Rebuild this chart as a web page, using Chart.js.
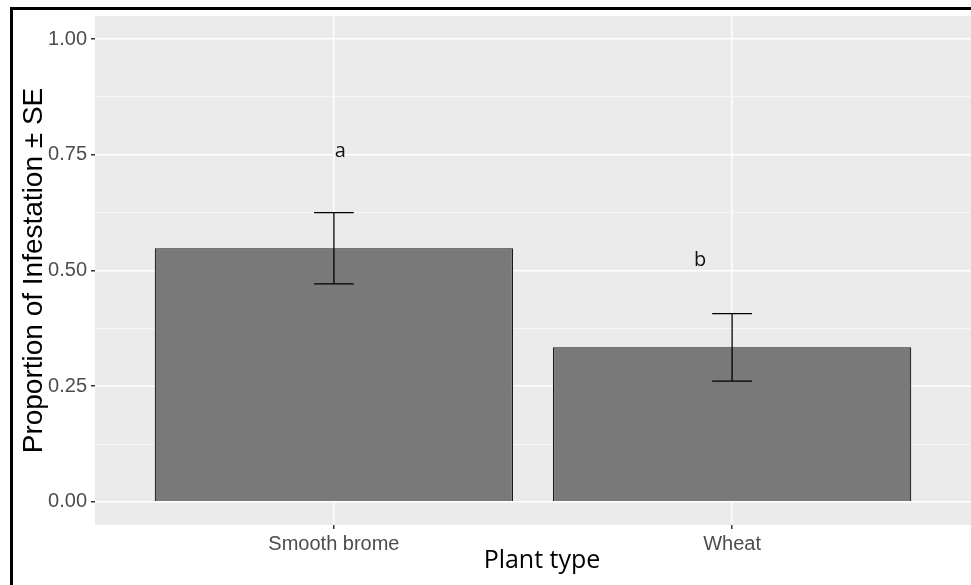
<!DOCTYPE html>
<html lang="en">
<head>
  <meta charset="UTF-8" />
  <title>Proportion of Infestation</title>
  <script src="https://cdn.jsdelivr.net/npm/chart.js"></script>
  <style>
    body {
      margin: 0;
      background: #ffffff;
    }
    #wrap {
      width: 971px;
      height: 585px;
    }
  </style>
</head>
<body>
  <div id="wrap"><canvas id="grafica" width="971" height="585"></canvas></div>

  <script>
    // data
    const categories = ['Smooth brome', 'Wheat'];
    const means = [0.548, 0.334];
    const se = [0.077, 0.073];
    const letters = ['a', 'b'];
    const letterX = [1.016, 1.92];
    const letterY = [0.746, 0.51];
    const yTicks = [0, 0.25, 0.5, 0.75, 1];
    const yMinor = [0.125, 0.375, 0.625, 0.875];

    const panelBg = {
      id: 'panelBg',
      beforeDraw(chart) {
        const { ctx, chartArea: a } = chart;
        ctx.save();
        ctx.fillStyle = '#EBEBEB';
        ctx.fillRect(a.left, a.top, a.right - a.left, a.bottom - a.top);
        ctx.restore();
      }
    };

    const extras = {
      id: 'extras',
      afterDatasetsDraw(chart) {
        const { ctx, chartArea: a } = chart;
        const x = chart.scales.x, y = chart.scales.y;
        ctx.save();

        // error bars
        ctx.strokeStyle = '#000';
        ctx.lineWidth = 1.3;
        means.forEach((m, i) => {
          const cx = x.getPixelForValue(i + 1);
          const half = x.getPixelForValue(i + 1.05) - cx;
          const top = y.getPixelForValue(m + se[i]);
          const bot = y.getPixelForValue(m - se[i]);
          ctx.beginPath();
          ctx.moveTo(cx, top); ctx.lineTo(cx, bot);
          ctx.moveTo(cx - half, top); ctx.lineTo(cx + half, top);
          ctx.moveTo(cx - half, bot); ctx.lineTo(cx + half, bot);
          ctx.stroke();
        });

        // significance letters
        ctx.fillStyle = '#111';
        ctx.font = '20px "Open Sans"';
        ctx.textAlign = 'center';
        ctx.textBaseline = 'alphabetic';
        letters.forEach((l, i) => {
          ctx.fillText(l, x.getPixelForValue(letterX[i]), y.getPixelForValue(letterY[i]));
        });

        // axis titles
        ctx.fillStyle = '#000';
        ctx.font = '28px "Liberation Sans"';
        ctx.textBaseline = 'middle';
        ctx.translate(34, (a.top + a.bottom) / 2);
        ctx.rotate(-Math.PI / 2);
        ctx.fillText('Proportion of Infestation \u00B1 SE', 0, 0);
        ctx.setTransform(1, 0, 0, 1, 0, 0);
        ctx.font = '25px "Open Sans"';
        ctx.textBaseline = 'alphabetic';
        ctx.fillText('Plant type', (a.left + a.right) / 2 + 9, 568);

        // frame of the picture
        ctx.fillStyle = '#000';
        ctx.fillRect(10, 7, 3, chart.height - 7);
        ctx.fillRect(10, 7, chart.width - 10, 3);
        ctx.restore();
      }
    };

    const isMajor = (v) => yTicks.some(t => Math.abs(t - v) < 1e-6);

    const config = {
      type: 'bar',
      data: {
        datasets: [{
          data: means.map((m, i) => ({ x: i + 1, y: m })),
          backgroundColor: '#797979',
          borderColor: '#1a1a1a',
          borderWidth: 1.2,
          barPercentage: 0.9,
          categoryPercentage: 1
        }]
      },
      options: {
        responsive: false,
        animation: false,
        layout: { padding: { top: 16, right: 0, left: 0, bottom: 0 } },
        plugins: {
          legend: { display: false },
          tooltip: { enabled: false }
        },
        scales: {
          x: {
            type: 'linear',
            min: 0.4,
            max: 2.6,
            offset: false,
            afterBuildTicks: (s) => { s.ticks = categories.map((c, i) => ({ value: i + 1 })); },
            afterFit: (s) => { s.height = 60; },
            border: { display: false },
            grid: {
              offset: false,
              color: '#FFFFFF',
              lineWidth: 1.5,
              tickColor: '#333',
              tickLength: 4
            },
            ticks: {
              autoSkip: false,
              maxRotation: 0,
              padding: 3,
              color: '#4D4D4D',
              font: { family: '"Liberation Sans"', size: 20 },
              callback: (v) => categories[Math.round(v) - 1]
            }
          },
          y: {
            min: -0.05,
            max: 1.05,
            afterBuildTicks: (s) => {
              s.ticks = yTicks.concat(yMinor).sort((p, q) => p - q).map(v => ({ value: v }));
            },
            afterFit: (s) => { s.width = 95; },
            border: { display: false },
            grid: {
              color: (c) => isMajor(c.tick.value) ? '#FFFFFF' : '#F6F6F6',
              lineWidth: (c) => isMajor(c.tick.value) ? 1.5 : 1,
              tickColor: (c) => isMajor(c.tick.value) ? '#333' : 'rgba(0,0,0,0)',
              tickLength: 4
            },
            ticks: {
              autoSkip: false,
              padding: 4,
              color: '#4D4D4D',
              font: { family: '"Liberation Sans"', size: 20 },
              callback: (v) => isMajor(v) ? v.toFixed(2) : ''
            }
          }
        }
      },
      plugins: [panelBg, extras]
    };

    new Chart(document.getElementById('grafica').getContext('2d'), config);
  </script>
</body>
</html>
